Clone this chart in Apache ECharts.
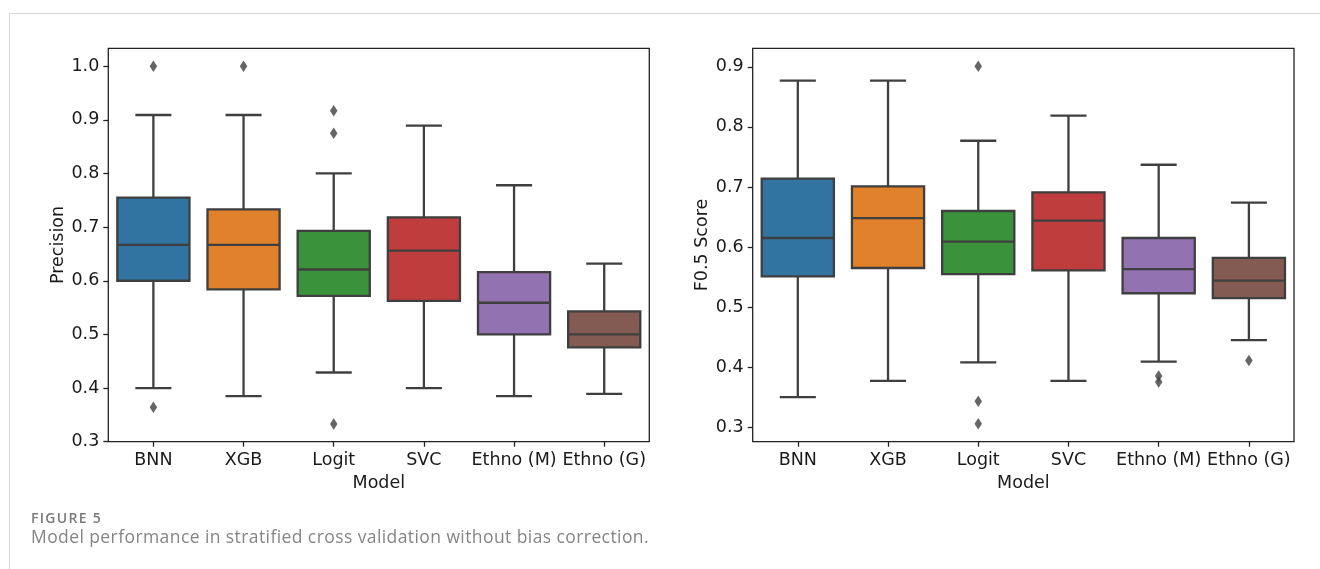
<!DOCTYPE html>
<html>
<head>
<meta charset="utf-8">
<script src="https://cdn.jsdelivr.net/npm/echarts@6/dist/echarts.min.js"></script>
<style>
  html, body { margin: 0; padding: 0; background: #ffffff; }
  #wrap { position: relative; width: 1320px; height: 569px; overflow: hidden; }
  #chart { position: absolute; left: 0; top: 0; width: 1320px; height: 569px; }
  .hline { position: absolute; left: 9px; top: 13px; width: 1311px; height: 1px; background: #d6d6d6; }
  .vline { position: absolute; left: 9px; top: 13px; width: 1px; height: 556px; background: #d6d6d6; }
  #figlabel { position: absolute; left: 31px; top: 510.6px; font-family: "Open Sans", "Lato", sans-serif; font-size: 14px; line-height: 14px; font-weight: 600; color: #7a7a7a; white-space: nowrap; }
  #figcap { position: absolute; left: 31px; top: 528.2px; font-family: "Open Sans", "Lato", sans-serif; font-size: 17.5px; line-height: 17.5px; color: #858585; white-space: nowrap; }
</style>
</head>
<body>
<div id="wrap">
  <div id="chart"></div>
  <div class="hline"></div>
  <div class="vline"></div>
  <div id="figlabel">FIGURE 5</div>
  <div id="figcap">Model performance in stratified cross validation without bias correction.</div>
</div>
<script>
// ---------------- data ----------------
const categories = ['BNN', 'XGB', 'Logit', 'SVC', 'Ethno (M)', 'Ethno (G)'];

const precisionMin = [0.400, 0.385, 0.429, 0.400, 0.385, 0.389];
const precisionQ1  = [0.600, 0.584, 0.572, 0.5625, 0.500, 0.476];
const precisionMed = [0.667, 0.667, 0.621, 0.656, 0.559, 0.500];
const precisionQ3  = [0.755, 0.733, 0.693, 0.718, 0.616, 0.543];
const precisionMax = [0.909, 0.909, 0.800, 0.889, 0.778, 0.632];
const precisionFliers = [['BNN', 1.0], ['BNN', 0.364], ['XGB', 1.0], ['Logit', 0.917], ['Logit', 0.875], ['Logit', 0.333]];

const f05Min = [0.350, 0.377, 0.408, 0.377, 0.409, 0.445];
const f05Q1  = [0.551, 0.565, 0.555, 0.561, 0.523, 0.515];
const f05Med = [0.615, 0.648, 0.609, 0.644, 0.563, 0.544];
const f05Q3  = [0.714, 0.701, 0.660, 0.691, 0.615, 0.582];
const f05Max = [0.877, 0.877, 0.777, 0.819, 0.737, 0.674];
const f05Fliers = [['Logit', 0.901], ['Logit', 0.343], ['Logit', 0.3055], ['Ethno (M)', 0.385], ['Ethno (M)', 0.375], ['Ethno (G)', 0.411]];

const precisionTicks = [0.3, 0.4, 0.5, 0.6, 0.7, 0.8, 0.9, 1.0];
const f05Ticks = [0.3, 0.4, 0.5, 0.6, 0.7, 0.8, 0.9];
const precisionRange = [0.3, 1.0333];
const f05Range = [0.2757, 0.931];

// ---------------- style ----------------
const boxColors = ['#3274a1', '#e1812c', '#3a923a', '#c03d3e', '#9372b2', '#845b53'];
const lineColor = '#3f3f3f';
const lw = 2.3;
const textColor = '#1a1a1a';
const font = 'DejaVu Sans';
const fs = 17.5;

function boxData(mn, q1, md, q3, mx) {
  return categories.map((c, i) => [c, mn[i], q1[i], md[i], q3[i], mx[i]]);
}

function renderBox(params, api) {
  const idx = api.value(0);
  const pMin = api.coord([idx, api.value(1)]);
  const pQ1 = api.coord([idx, api.value(2)]);
  const pMed = api.coord([idx, api.value(3)]);
  const pQ3 = api.coord([idx, api.value(4)]);
  const pMax = api.coord([idx, api.value(5)]);
  const band = api.size([1, 0])[0];
  const cx = pMed[0];
  const bw = band * 0.8;
  const cw = bw / 2;
  const ls = { stroke: lineColor, lineWidth: lw, fill: null };
  return {
    type: 'group',
    children: [
      { type: 'line', shape: { x1: cx, y1: pQ3[1], x2: cx, y2: pMax[1] }, style: ls },
      { type: 'line', shape: { x1: cx, y1: pQ1[1], x2: cx, y2: pMin[1] }, style: ls },
      { type: 'line', shape: { x1: cx - cw / 2, y1: pMax[1], x2: cx + cw / 2, y2: pMax[1] }, style: ls },
      { type: 'line', shape: { x1: cx - cw / 2, y1: pMin[1], x2: cx + cw / 2, y2: pMin[1] }, style: ls },
      { type: 'rect', shape: { x: cx - bw / 2, y: pQ3[1], width: bw, height: pQ1[1] - pQ3[1] },
        style: { fill: boxColors[idx], stroke: lineColor, lineWidth: lw } },
      { type: 'line', shape: { x1: cx - bw / 2, y1: pMed[1], x2: cx + bw / 2, y2: pMed[1] }, style: ls }
    ]
  };
}

function xAxisCfg(gi) {
  return {
    type: 'category', gridIndex: gi, data: categories, boundaryGap: true,
    name: 'Model', nameLocation: 'middle', nameGap: 33,
    nameTextStyle: { fontFamily: font, fontSize: fs, color: textColor },
    axisLine: { show: false },
    axisTick: { show: true, alignWithLabel: true, length: 5, lineStyle: { color: '#222', width: 1.3 } },
    axisLabel: { fontFamily: font, fontSize: fs, color: textColor, margin: 10, interval: 0 },
    splitLine: { show: false }
  };
}

function yAxisCfg(gi, name, range, ticks) {
  return {
    type: 'value', gridIndex: gi, min: range[0], max: range[1],
    name: name, nameLocation: 'middle', nameGap: 41,
    nameTextStyle: { fontFamily: font, fontSize: fs, color: textColor },
    axisLine: { show: false },
    axisTick: { show: true, length: 5, customValues: ticks, lineStyle: { color: '#222', width: 1.3 } },
    axisLabel: { fontFamily: font, fontSize: fs, color: textColor, margin: 9, customValues: ticks,
      formatter: v => Number(v).toFixed(1) },
    splitLine: { show: false }
  };
}

const flierStyle = { color: lineColor };

const option = {
  animation: false,
  backgroundColor: '#ffffff',
  grid: [
    { left: 108.3, top: 48.3, width: 541, height: 393.4, show: true, borderColor: '#222', borderWidth: 1.3, backgroundColor: 'transparent' },
    { left: 752.7, top: 48.3, width: 541.3, height: 393.4, show: true, borderColor: '#222', borderWidth: 1.3, backgroundColor: 'transparent' }
  ],
  xAxis: [xAxisCfg(0), xAxisCfg(1)],
  yAxis: [
    yAxisCfg(0, 'Precision', precisionRange, precisionTicks),
    yAxisCfg(1, 'F0.5 Score', f05Range, f05Ticks)
  ],
  series: [
    { type: 'custom', xAxisIndex: 0, yAxisIndex: 0, renderItem: renderBox,
      encode: { x: 0, y: [1, 2, 3, 4, 5] },
      data: boxData(precisionMin, precisionQ1, precisionMed, precisionQ3, precisionMax) },
    { type: 'scatter', xAxisIndex: 0, yAxisIndex: 0, symbol: 'diamond', symbolSize: [7.5, 11.5],
      itemStyle: flierStyle, data: precisionFliers },
    { type: 'custom', xAxisIndex: 1, yAxisIndex: 1, renderItem: renderBox,
      encode: { x: 0, y: [1, 2, 3, 4, 5] },
      data: boxData(f05Min, f05Q1, f05Med, f05Q3, f05Max) },
    { type: 'scatter', xAxisIndex: 1, yAxisIndex: 1, symbol: 'diamond', symbolSize: [7.5, 11.5],
      itemStyle: flierStyle, data: f05Fliers }
  ]
};

const chart = echarts.init(document.getElementById('chart'), null, { renderer: 'canvas' });
chart.setOption(option);

// fit caption letter spacing to reference widths
function fitWidth(id, target) {
  const el = document.getElementById(id);
  const n = el.textContent.length;
  const w = el.getBoundingClientRect().width;
  el.style.letterSpacing = ((target - w) / n) + 'px';
}
fitWidth('figlabel', 71);
fitWidth('figcap', 618);
</script>
</body>
</html>
